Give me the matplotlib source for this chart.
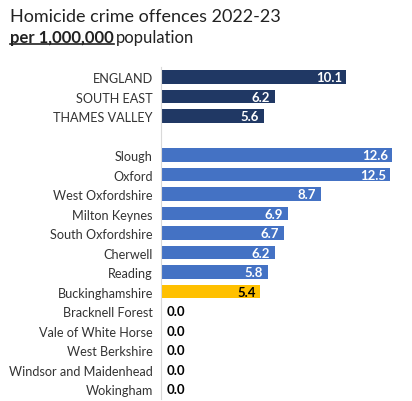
import matplotlib.pyplot as plt
from matplotlib.lines import Line2D

plt.rcParams['font.family'] = ['Lato', 'DejaVu Sans']

areas = ['ENGLAND', 'SOUTH EAST', 'THAMES VALLEY', '',
         'Slough', 'Oxford', 'West Oxfordshire', 'Milton Keynes',
         'South Oxfordshire', 'Cherwell', 'Reading', 'Buckinghamshire',
         'Bracknell Forest', 'Vale of White Horse', 'West Berkshire',
         'Windsor and Maidenhead', 'Wokingham']
rates = [10.1, 6.2, 5.6, None,
         12.6, 12.5, 8.7, 6.9, 6.7, 6.2, 5.8, 5.4,
         0.0, 0.0, 0.0, 0.0, 0.0]

navy = '#203864'
blue = '#4472C4'
gold = '#FFC000'

fig = plt.figure(figsize=(4.12, 4.02), dpi=100)
ax = fig.add_axes([0.391, 0.0056, 0.579, 0.8244])

for i, (name, val) in enumerate(zip(areas, rates)):
    if val is None:
        continue
    if i < 3:
        col = navy
    elif name == 'Buckinghamshire':
        col = gold
    else:
        col = blue
    if val > 0:
        ax.barh(i, val, height=0.68, color=col)
        txt_col = 'black' if col == gold else 'white'
        ax.text(val - 0.25, i, f'{val:.1f}', ha='right', va='center',
                color=txt_col, fontsize=9.5, fontweight='bold')
    else:
        ax.text(0.3, i, f'{val:.1f}', ha='left', va='center',
                color='black', fontsize=9.5, fontweight='bold')

ax.set_ylim(16.5, -0.5)
ax.set_xlim(0, 13)
ax.set_yticks(range(len(areas)))
ax.set_yticklabels(areas, fontsize=9.1, color='#333333')
ax.tick_params(axis='y', length=0, pad=6)
ax.set_xticks([])
for s in ['top', 'right', 'bottom']:
    ax.spines[s].set_visible(False)
ax.spines['left'].set_color('#d9d9d9')

# title lines
fig.text(0.025, 0.978, 'Homicide crime offences 2022-23', fontsize=13,
         va='top', ha='left', color='#222222')
t1 = fig.text(0.025, 0.925, 'per 1,000,000', fontsize=12, fontweight='bold',
              va='top', ha='left', color='#222222')
fig.canvas.draw()
r = fig.canvas.get_renderer()
bb = t1.get_window_extent(r).transformed(fig.transFigure.inverted())
fig.text(bb.x1 + 0.005, 0.925, 'population', fontsize=12,
         va='top', ha='left', color='#222222')
fig.add_artist(Line2D([bb.x0, bb.x1], [bb.y0 + 0.002, bb.y0 + 0.002],
                      color='#222222', lw=1.2))

fig.savefig('out.png', dpi=100)
